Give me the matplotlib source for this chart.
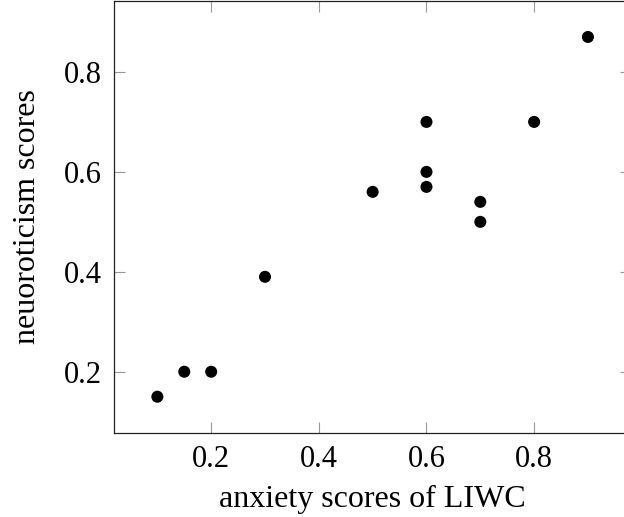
import matplotlib.pyplot as plt

# anxiety (LIWC) vs neuroticism scores
anxiety = [0.1, 0.15, 0.2, 0.3, 0.5, 0.6, 0.6, 0.6, 0.7, 0.7, 0.8, 0.9]
neuro = [0.15, 0.2, 0.2, 0.39, 0.56, 0.7, 0.6, 0.57, 0.54, 0.5, 0.7, 0.87]
xticks = [0.2, 0.4, 0.6, 0.8]
yticks = [0.2, 0.4, 0.6, 0.8]

plt.rcParams['font.family'] = ['Liberation Serif', 'DejaVu Serif']

fig = plt.figure(figsize=(6.24, 5.17), dpi=100)
# right edge of the plot falls just outside the picture, as in the original
ax = fig.add_axes([114.3/624, 84.3/517, 516.7/624, 431.7/517])
ax.scatter(anxiety, neuro, s=75, c='black', edgecolors='none', zorder=3)

ax.set_xlim(0.02, 0.98)
ax.set_ylim(0.078, 0.942)
ax.set_xticks(xticks)
ax.set_yticks(yticks)
ax.set_xticklabels([str(t) for t in xticks])
ax.set_yticklabels([str(t) for t in yticks])
ax.tick_params(direction='in', length=8, width=0.8, color='#999999',
               labelsize=22, pad=9, top=True, right=True)
for sp in ax.spines.values():
    sp.set_linewidth(0.9)
    sp.set_color('#222222')
ax.set_xlabel('anxiety scores of LIWC', fontsize=23, labelpad=8)
ax.set_ylabel('neuoroticism scores', fontsize=23, labelpad=16)

fig.savefig('out.png', dpi=100)
